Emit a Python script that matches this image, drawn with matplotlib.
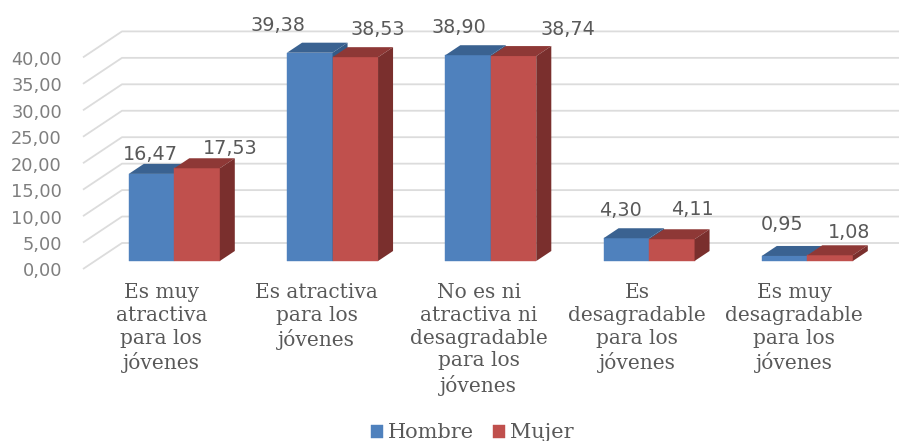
import matplotlib
matplotlib.use("Agg")
import matplotlib.pyplot as plt
from matplotlib.patches import Polygon

categorias = ["Es muy\natractiva\npara los\njóvenes",
              "Es atractiva\npara los\njóvenes",
              "No es ni\natractiva ni\ndesagradable\npara los\njóvenes",
              "Es\ndesagradable\npara los\njóvenes",
              "Es muy\ndesagradable\npara los\njóvenes"]
hombre = [16.47, 39.38, 38.90, 4.30, 0.95]
mujer = [17.53, 38.53, 38.74, 4.11, 1.08]
y_ticks = [0, 5, 10, 15, 20, 25, 30, 35, 40]

# desplazamiento a mano de cada etiqueta (pixeles)
off_h = [(-1.5, 19), (-32, 27), (-9, 28), (-6, 28), (-2.5, 31)]
off_m = [(33, 20), (23, 28), (54.5, 27), (21, 30), (19, 23)]
off_cat = [-13, -16, -12, -12, -13]

W, H = 899, 441
PX_X = 158.25   # pixeles por categoria
PX_Y = 5.29     # pixeles por unidad
X0, Y0 = 174.3, 261.0   # pixel de la categoria 0, valor 0

fig = plt.figure(figsize=(W / 100, H / 100), dpi=100)
ax = fig.add_axes([0, 0, 1, 1])
ax.set_xlim(-X0 / PX_X, (W - X0) / PX_X)
ax.set_ylim(-(H - Y0) / PX_Y, Y0 / PX_Y)
ax.axis("off")

def px(dx):
    return dx / PX_X

def py(dy):
    return dy / PX_Y

# rejilla: pared del fondo y diagonal hacia el frente
GRID = "#dcdcdc"
for t in y_ticks:
    ax.plot([px(83 - X0), px(122 - X0), ax.get_xlim()[1]],
            [t + py(-8), t + py(18), t + py(18)],
            color=GRID, lw=1.3, zorder=1, solid_capstyle="butt")
    ax.annotate("{:.2f}".format(t).replace(".", ","), (px(62 - X0), t + py(-8)),
                xytext=(0, -2.5), textcoords="offset pixels",
                ha="right", va="center", fontsize=12.8, color="#7f7f7f")

BW = 45.5 / PX_X
DX = px(15)
DY = py(10)

def barra3d(x, v, c_front, c_top, c_side, z, label=None):
    b = ax.bar(x, v, BW, color=c_front, zorder=z, label=label,
               edgecolor=c_front, linewidth=0.3)
    l, r = x - BW / 2, x + BW / 2
    ax.add_patch(Polygon([(l, v), (r, v), (r + DX, v + DY), (l + DX, v + DY)],
                         fc=c_top, ec="none", zorder=z))
    ax.add_patch(Polygon([(r, 0), (r + DX, DY), (r + DX, v + DY), (r, v)],
                         fc=c_side, ec="none", zorder=z))
    return b

for i in range(len(categorias)):
    xh = i - BW / 2
    xm = i + BW / 2
    barra3d(xh, hombre[i], "#4f81bd", "#3a6291", "#345a86", 3,
            "Hombre" if i == 0 else None)
    barra3d(xm, mujer[i], "#c0504d", "#8e3836", "#7a2f2d", 4,
            "Mujer" if i == 0 else None)
    ax.annotate("{:.2f}".format(hombre[i]).replace(".", ","), (xh, hombre[i]),
                xytext=off_h[i], textcoords="offset pixels", ha="center", va="center",
                fontsize=13.8, color="#595959", zorder=6)
    ax.annotate("{:.2f}".format(mujer[i]).replace(".", ","), (xm, mujer[i]),
                xytext=off_m[i], textcoords="offset pixels", ha="center", va="center",
                fontsize=13.8, color="#595959", zorder=6)
    ax.annotate(categorias[i], (i, 0), xytext=(off_cat[i], -22), textcoords="offset pixels",
                ha="center", va="top", fontsize=14.5, family="DejaVu Serif",
                color="#595959", linespacing=1.25)

leg = ax.legend(loc="center", bbox_to_anchor=(472.5 / W, 1 - 433 / H), ncol=2, frameon=False,
                prop={"family": "DejaVu Serif", "size": 15}, handlelength=0.58,
                handleheight=0.58, handletextpad=0.24, columnspacing=0.9, borderpad=0)
for t in leg.get_texts():
    t.set_color("#595959")

fig.savefig("out.png", dpi=100)
